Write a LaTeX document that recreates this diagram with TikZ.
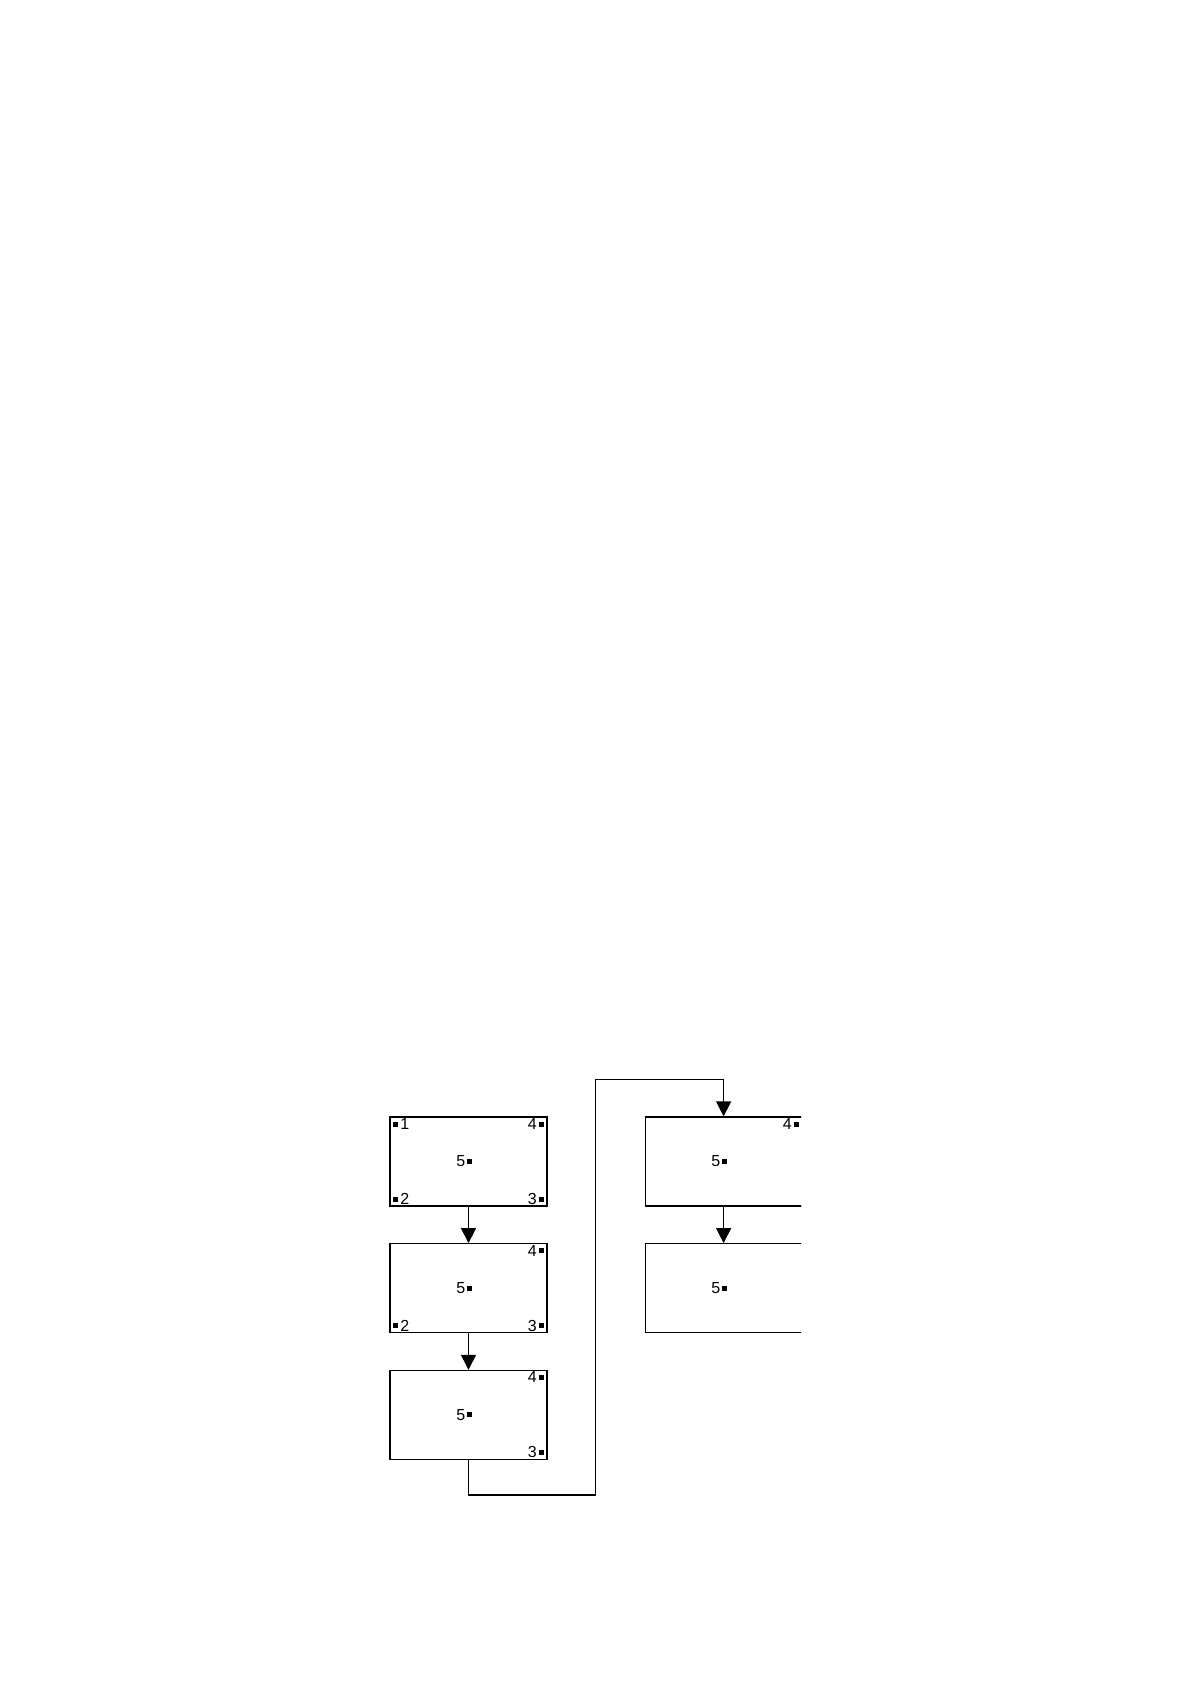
\documentclass[tikz,border=0pt]{standalone}
\usepackage{fontspec}
\setmainfont{Liberation Sans}
\usetikzlibrary{arrows.meta}
\usetikzlibrary{positioning}
\tikzset{>={Triangle[length=7.5pt,width=7.5pt]}}
\tikzset{
	box/.style={draw, line width=0.6pt, minimum width=78.5pt, minimum height=44.5pt, inner sep=0pt},
	sqm/.style={fill, inner sep=0pt, minimum size=2.5pt},
	num/.style={inner sep=0.6pt, font=\fontsize{8}{9}\selectfont},
	flow/.style={->, line width=0.6pt},
}
\newcommand{\pinmark}[5]{% {name}{box.anchor}{shift}{side}{number}
	\node[sqm] (#1) at ([shift={#3}]#2) {}; % square
	\node[num, #4=0pt of #1] (#1-n) {#5} % number
}

\begin{document}
\begin{tikzpicture}[x=0.5pt, y=-0.5pt, node distance=18.25pt]
				\useasboundingbox (0,0) rectangle (1190,1684);
				\clip (0,0) rectangle (801,1684);
				\node[box] (b1) at (468.5,1161.5) {};
				\node[box, below=of b1] (b2) {};
				\node[box, below=of b2] (b3) {};
				\node[box] (r1) at (723.6,1161.5) {};
				\node[box, below=of r1] (r2) {};

				\pinmark{b1p1}{b1.north west}{(3.2pt,-3.8pt)}{right}{1};
				\pinmark{b1p2}{b1.south west}{(3.2pt,3.8pt)}{right}{2};
				\pinmark{b1p3}{b1.south east}{(-3.2pt,3.8pt)}{left}{3};
				\pinmark{b1p4}{b1.north east}{(-3.2pt,-3.8pt)}{left}{4};
				\pinmark{b1p5}{b1.center}{(0.6pt,0pt)}{left}{5};

				\pinmark{b2p2}{b2.south west}{(3.2pt,3.8pt)}{right}{2};
				\pinmark{b2p3}{b2.south east}{(-3.2pt,3.8pt)}{left}{3};
				\pinmark{b2p4}{b2.north east}{(-3.2pt,-3.8pt)}{left}{4};
				\pinmark{b2p5}{b2.center}{(0.6pt,0pt)}{left}{5};

				\pinmark{b3p3}{b3.south east}{(-3.2pt,3.8pt)}{left}{3};
				\pinmark{b3p4}{b3.north east}{(-3.2pt,-3.8pt)}{left}{4};
				\pinmark{b3p5}{b3.center}{(0.6pt,0pt)}{left}{5};

				\pinmark{r1p4}{r1.north east}{(-3.2pt,-3.8pt)}{left}{4};
				\pinmark{r1p5}{r1.center}{(0.6pt,0pt)}{left}{5};
				\pinmark{r2p5}{r2.center}{(0.6pt,0pt)}{left}{5};

				\draw[flow] (b1) -- (b2);
				\draw[flow] (b2) -- (b3);
				\draw[flow] (r1) -- (r2);
				\coordinate (low) at (595.7,1495);
				\coordinate (high) at (595.7,1079.3);
				\draw[flow] (b3.south) |- (low) -- (high) -| (r1.north);
			\end{tikzpicture}
\end{document}
